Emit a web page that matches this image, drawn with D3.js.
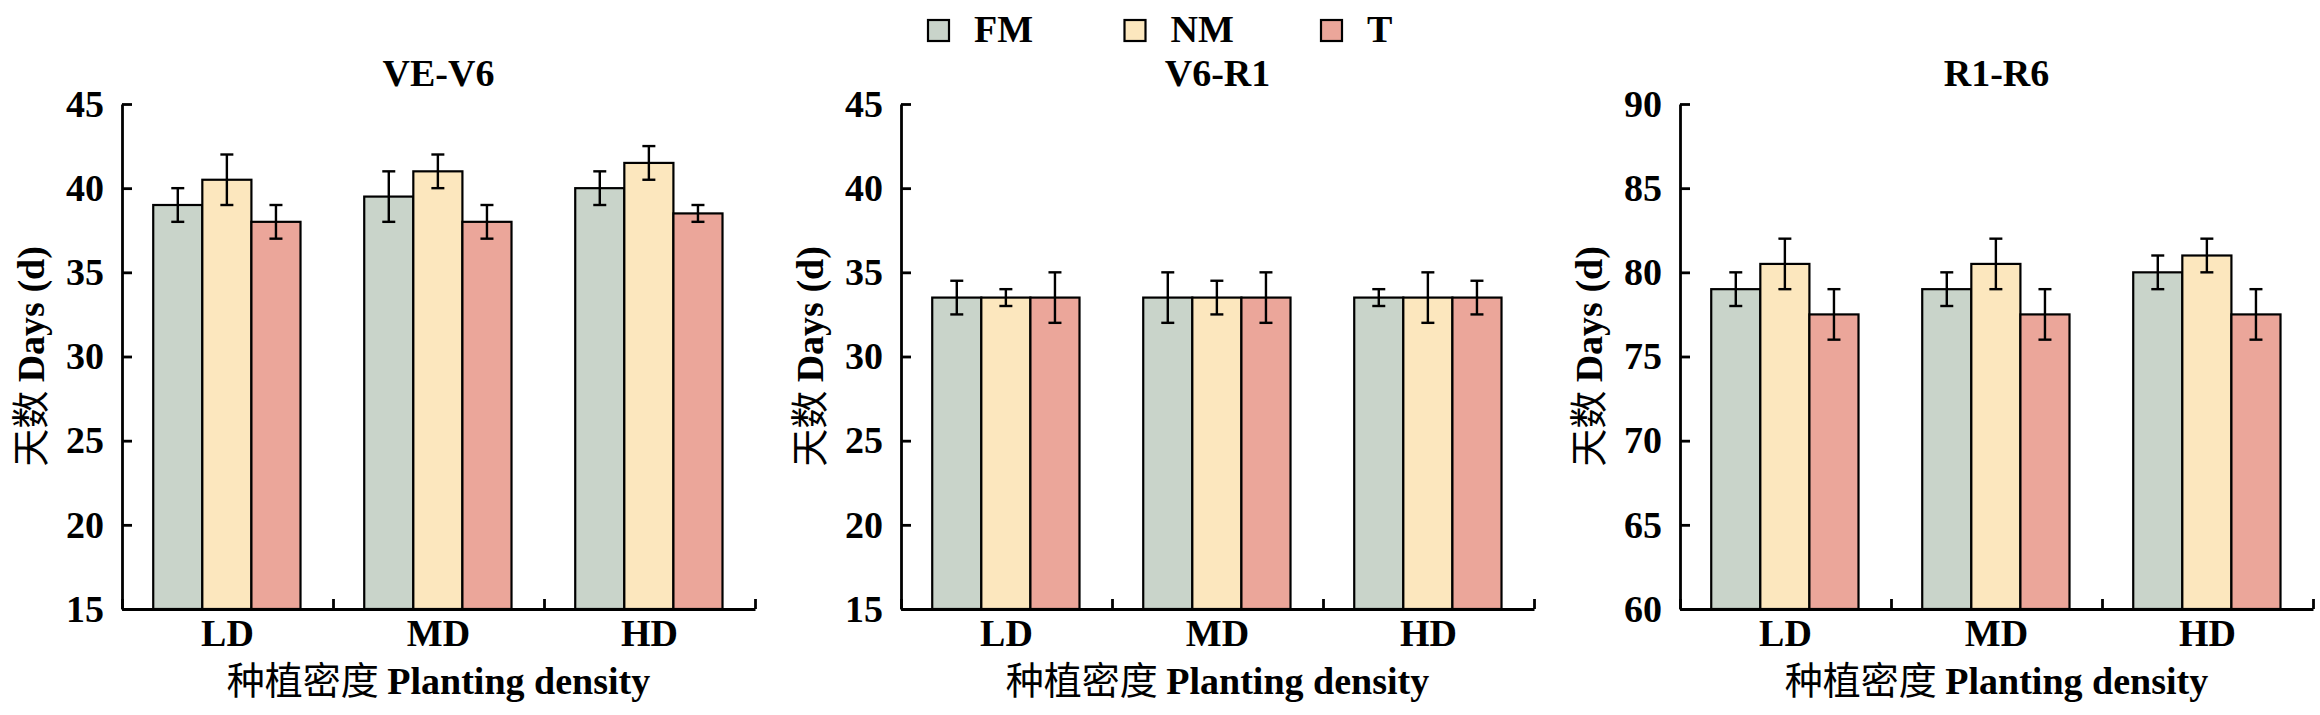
<!DOCTYPE html>
<html>
<head>
<meta charset="utf-8">
<script src="https://cdn.jsdelivr.net/npm/d3@7"></script>
<style>
    body { margin: 0; background: #fff; }
    svg { display: block; }
</style>
</head>
<body>
<div id="container"><svg></svg></div>
<script>
// categories / series
const categories = ['LD', 'MD', 'HD'];
const series = ['FM', 'NM', 'T'];
const colors = ['#C9D4CA', '#FCE7BE', '#EBA69A'];

// panels
const panel_titles = ['VE-V6', 'V6-R1', 'R1-R6'];
const y_ticks_ve_v6 = [15, 20, 25, 30, 35, 40, 45];
const y_ticks_v6_r1 = [15, 20, 25, 30, 35, 40, 45];
const y_ticks_r1_r6 = [60, 65, 70, 75, 80, 85, 90];

// means, rows = LD/MD/HD, columns = FM/NM/T
const ve_v6_mean = [[39, 40.5, 38], [39.5, 41, 38], [40, 41.5, 38.5]];
const ve_v6_err  = [[1, 1.5, 1], [1.5, 1, 1], [1, 1, 0.5]];
const v6_r1_mean = [[33.5, 33.5, 33.5], [33.5, 33.5, 33.5], [33.5, 33.5, 33.5]];
const v6_r1_err  = [[1, 0.5, 1.5], [1.5, 1, 1.5], [0.5, 1.5, 1]];
const r1_r6_mean = [[79, 80.5, 77.5], [79, 80.5, 77.5], [80, 81, 77.5]];
const r1_r6_err  = [[1, 1.5, 1.5], [1, 1.5, 1.5], [1, 1, 1.5]];

let width = 2320;
let height = 715;
let fontSize = 38;
let fontFamily = "'Liberation Serif', 'Times New Roman', serif";
let cjkFamily = "'Noto Sans CJK SC', sans-serif";

let panels = [
    {title: panel_titles[0], ticks: y_ticks_ve_v6, mean: ve_v6_mean, err: ve_v6_err},
    {title: panel_titles[1], ticks: y_ticks_v6_r1, mean: v6_r1_mean, err: v6_r1_err},
    {title: panel_titles[2], ticks: y_ticks_r1_r6, mean: r1_r6_mean, err: r1_r6_err}
];

function style_text(sel) {
    return sel.attr('font-family', fontFamily)
        .attr('font-weight', 'bold')
        .attr('font-size', fontSize)
        .attr('fill', '#000');
}

function draw_panel(svg, p, left) {
    let pw = 633;
    let top = 104, bottom = 609;
    let g = svg.append('g').attr('transform', `translate(${left}, 0)`);

    let x0 = d3.scaleBand().domain(categories).range([0, pw]).padding(0);
    let bw = x0.bandwidth();
    let x1 = d3.scaleBand().domain(series).range([bw * 0.148, bw * 0.846]).padding(0);
    let y = d3.scaleLinear().domain(d3.extent(p.ticks)).range([bottom, top]);

    // bars
    categories.forEach((c, ci) => {
        let cg = g.append('g').attr('transform', `translate(${x0(c)}, 0)`);
        cg.selectAll('rect')
            .data(series)
            .enter()
            .append('rect')
            .attr('x', s => x1(s))
            .attr('y', (s, si) => y(p.mean[ci][si]))
            .attr('width', x1.bandwidth())
            .attr('height', (s, si) => bottom - y(p.mean[ci][si]))
            .attr('fill', (s, si) => colors[si])
            .attr('stroke', '#000')
            .attr('stroke-width', 2.2);

        // error bars
        let eb = cg.selectAll('g.err')
            .data(series)
            .enter()
            .append('g')
            .attr('class', 'err')
            .attr('stroke', '#000')
            .attr('stroke-width', 2.4);
        eb.append('line')
            .attr('x1', s => x1(s) + x1.bandwidth() / 2)
            .attr('x2', s => x1(s) + x1.bandwidth() / 2)
            .attr('y1', (s, si) => y(p.mean[ci][si] - p.err[ci][si]))
            .attr('y2', (s, si) => y(p.mean[ci][si] + p.err[ci][si]));
        [-1, 1].forEach(sign => {
            eb.append('line')
                .attr('x1', s => x1(s) + x1.bandwidth() / 2 - 6.5)
                .attr('x2', s => x1(s) + x1.bandwidth() / 2 + 6.5)
                .attr('y1', (s, si) => y(p.mean[ci][si] + sign * p.err[ci][si]))
                .attr('y2', (s, si) => y(p.mean[ci][si] + sign * p.err[ci][si]));
        });
    });

    // y axis
    let axis_y = d3.axisLeft(y)
        .tickValues(p.ticks)
        .tickSize(-10)
        .tickSizeOuter(0)
        .tickPadding(18)
        .tickFormat(d => d);
    let ya = g.append('g').call(axis_y).attr('font-family', fontFamily);
    style_text(ya.selectAll('text'));
    ya.selectAll('line, path').attr('stroke', '#000').attr('stroke-width', 2.8);

    // x axis: boundary ticks + category labels
    let xb = d3.scaleLinear().domain([0, categories.length]).range([0, pw]);
    let xa = g.append('g')
        .attr('transform', `translate(0, ${bottom})`)
        .call(d3.axisBottom(xb).tickValues(d3.range(categories.length + 1)).tickSize(-10).tickSizeOuter(0).tickFormat(''));
    xa.selectAll('line, path').attr('stroke', '#000').attr('stroke-width', 2.8);

    let xl = g.append('g')
        .attr('transform', `translate(0, ${bottom})`)
        .call(d3.axisBottom(x0).tickSize(0).tickPadding(10))
        .attr('font-family', fontFamily);
    xl.select('.domain').remove();
    style_text(xl.selectAll('text'));

    // title
    style_text(g.append('text'))
        .attr('x', pw / 2)
        .attr('y', 86)
        .attr('text-anchor', 'middle')
        .text(p.title);

    // x label
    let xt = style_text(g.append('text'))
        .attr('x', pw / 2)
        .attr('y', 694)
        .attr('text-anchor', 'middle');
    xt.append('tspan').attr('font-family', cjkFamily).attr('font-weight', 'normal').text('种植密度 ');
    xt.append('tspan').text('Planting density');

    // y label
    let yt = style_text(g.append('text'))
        .attr('transform', `translate(-78, ${(top + bottom) / 2}) rotate(-90)`)
        .attr('text-anchor', 'middle');
    yt.append('tspan').attr('font-family', cjkFamily).attr('font-weight', 'normal').text('天数 ');
    yt.append('tspan').text('Days (d)');
}

function draw_legend(svg) {
    let lg = svg.append('g').attr('transform', 'translate(927, 0)');
    let item = lg.selectAll('g')
        .data(series)
        .enter()
        .append('g')
        .attr('transform', (d, i) => `translate(${i * 196.5}, 0)`);
    item.append('rect')
        .attr('x', 1)
        .attr('y', 20)
        .attr('width', 21)
        .attr('height', 21)
        .attr('fill', (d, i) => colors[i])
        .attr('stroke', '#000')
        .attr('stroke-width', 2.2);
    style_text(item.append('text'))
        .attr('x', 47)
        .attr('y', 42)
        .text(d => d);
}

function main() {
    let svg = d3.select('#container')
        .select('svg')
        .attr('width', width)
        .attr('height', height);
    panels.forEach((p, i) => draw_panel(svg, p, 122 + i * 779));
    draw_legend(svg);
}

main()
</script>
</body>
</html>
